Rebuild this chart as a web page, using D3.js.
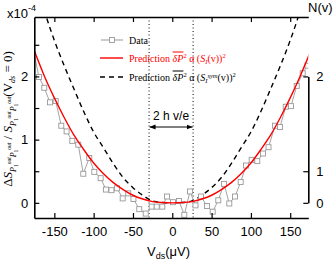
<!DOCTYPE html>
<html lang="en">
<head>
<meta charset="UTF-8">
<script src="https://cdn.jsdelivr.net/npm/d3@7"></script>
<title>Noise vs bias</title>
<style>body{margin:0;background:#fff}</style>
</head>
<body>
<script>
// measured points (V_ds in uV, excess noise in units of 1e-4)
const vds = [-182, -169.6, -162.8, -155.6, -148.3, -141.2, -134.4, -127.2, -119.6, -113.2, -105.6,
  -99.2, -91.1, -84.4, -77.4, -70.4, -63.1, -56.0, -49.4, -42.0, -33.8, -26.2, -19.8, -12.7, -6.7,
  0.9, 8.5, 15.3, 22.5, 29.5, 36.5, 44.1, 51.4, 58.5, 65.8, 72.5, 79.8, 87.0, 93.8, 101.0, 108.1,
  115.4, 122.4, 130.7, 137.0, 144.3, 151.0, 158.3, 165.9, 172.0];
const dS = [2.75, 1.99, 1.82, 1.59, 1.61, 1.22, 1.13, 0.98, 0.92, 0.46, 0.71,
  0.49, 0.39, 0.21, 0.20, 0.23, 0.07, 0.15, 0.06, -0.10, -0.17, -0.06, -0.06, -0.06, 0.10,
  0.01, 0.03, -0.19, 0.18, -0.04, 0.10, -0.05, -0.14, 0.04, 0.30, -0.01, 0.10, 0.33, 0.59, 0.68, 0.66,
  0.78, 0.88, 1.22, 1.20, 1.52, 1.53, 1.85, 2.05, 2.17];

// prediction curves
const curveV = [-176, -162.5, -150, -137.5, -125, -112.5, -100, -87.5, -75, -62.5, -50, -37.5, -25, -12.5, 0,
  12.5, 25, 37.5, 50, 62.5, 75, 87.5, 100, 112.5, 125, 137.5, 150, 162.5, 176];
const predS = [2.42, 2.00, 1.66, 1.35, 1.07, 0.84, 0.63, 0.46, 0.32, 0.21, 0.12, 0.06, 0.02, 0.005, 0,
  0.005, 0.02, 0.06, 0.12, 0.21, 0.32, 0.46, 0.63, 0.84, 1.07, 1.35, 1.66, 2.00, 2.40];
const predSym = [3.60, 3.03, 2.57, 2.17, 1.80, 1.44, 1.12, 0.87, 0.62, 0.40, 0.24, 0.12, 0.03, 0.005, 0,
  0.005, 0.03, 0.12, 0.24, 0.40, 0.62, 0.87, 1.12, 1.44, 1.80, 2.17, 2.57, 3.03, 3.60];

const xTicks = [-150, -100, -50, 0, 50, 100, 150];
const yTicks = [0, 0.5, 1, 1.5, 2, 2.5];
const nTicks = [0, 1, 2];
const gapV = [-29.5, 26.5];

const w = 334, h = 261;
const svg = d3.select("body").append("svg").attr("width", w).attr("height", h);

const x = d3.scaleLinear().domain([-175.5, 173]).range([34.3, 308.3]);
const y = d3.scaleLinear().domain([-0.24, 2.94]).range([218, 17]);
const n = d3.scalePow().exponent(2).domain([0, 2]).range([y(0), y(2)]);

const sans = "Liberation Sans, Arial, sans-serif";
const serif = "Liberation Serif, Times New Roman, serif";

svg.append("clipPath").attr("id", "clip").append("rect")
  .attr("x", x.range()[0]).attr("y", y.range()[1])
  .attr("width", x.range()[1] - x.range()[0]).attr("height", y.range()[0] - y.range()[1]);

const plot = svg.append("g").attr("clip-path", "url(#clip)");

// dotted guides
plot.selectAll(".gap").data(gapV).enter().append("line")
  .attr("x1", d => x(d)).attr("x2", d => x(d))
  .attr("y1", y.range()[1]).attr("y2", y.range()[0])
  .attr("stroke", "#000").attr("stroke-width", 1).attr("stroke-dasharray", "1,2.5");

const line = d3.line().curve(d3.curveMonotoneX);

plot.append("path")
  .attr("d", line(curveV.map((v, i) => [x(v), y(predSym[i])])))
  .attr("fill", "none").attr("stroke", "#000").attr("stroke-width", 1.4)
  .attr("stroke-dasharray", "5,4");

plot.append("path")
  .attr("d", d3.line()(vds.map((v, i) => [x(v), y(dS[i])])))
  .attr("fill", "none").attr("stroke", "#999").attr("stroke-width", 0.9);

plot.selectAll(".pt").data(vds).enter().append("rect")
  .attr("x", (d) => x(d) - 2.5).attr("y", (d, i) => y(dS[i]) - 2.5)
  .attr("width", 5).attr("height", 5)
  .attr("fill", "#fff").attr("stroke", "#999").attr("stroke-width", 0.9);

plot.append("path")
  .attr("d", line(curveV.map((v, i) => [x(v), y(predS[i])])))
  .attr("fill", "none").attr("stroke", "#f00").attr("stroke-width", 1.4);

// axes, ticks pointing inward
const fmt = d => String(d);
const axB = svg.append("g").attr("transform", `translate(0,${y.range()[0]})`)
  .call(d3.axisBottom(x).tickValues(xTicks).tickSizeInner(-5).tickSizeOuter(0).tickPadding(9).tickFormat(fmt));
const axT = svg.append("g").attr("transform", `translate(0,${y.range()[1]})`)
  .call(d3.axisTop(x).tickValues(xTicks).tickSizeInner(-5).tickSizeOuter(0).tickFormat(""));
const axL = svg.append("g").attr("transform", `translate(${x.range()[0]},0)`)
  .call(d3.axisLeft(y).tickValues(yTicks).tickSizeInner(-5).tickSizeOuter(0).tickPadding(6)
    .tickFormat(d => Number.isInteger(d) ? fmt(d) : ""));
const axR = svg.append("g").attr("transform", `translate(${x.range()[1]},0)`)
  .call(d3.axisRight(n).tickValues(nTicks).tickSizeInner(-5).tickSizeOuter(0).tickPadding(8).tickFormat(fmt));

[axB, axT, axL, axR].forEach(g => {
  g.select(".domain").attr("stroke-width", 1.6);
  g.selectAll(".tick line").attr("stroke-width", 1.2);
  g.selectAll("text").attr("font-family", sans).attr("font-size", 13).attr("fill", "#000");
});

// helper for rich text
function rich(t, parts) {
  let prev = 0;
  parts.forEach(p => {
    const ts = t.append("tspan").text(p.t).attr("font-size", p.s).attr("dy", (p.o || 0) - prev);
    if (p.i) ts.attr("font-style", "italic");
    if (p.ov) ts.style("text-decoration", "overline");
    if (p.c) ts.attr("fill", p.c);
    prev = p.o || 0;
  });
}

// scale factor labels
const xt = svg.append("text").attr("x", 7).attr("y", 18).attr("font-family", sans);
rich(xt, [{t: "x10", s: 13}, {t: "-4", s: 9, o: -7}]);
svg.append("text").attr("x", 308).attr("y", 12).attr("font-family", sans).attr("font-size", 13).text("N(v)");

// x label
const xl = svg.append("text").attr("x", 147).attr("y", 256).attr("font-family", sans);
rich(xl, [{t: "V", s: 13}, {t: "ds", s: 9, o: 3}, {t: "(\u03bcV)", s: 13}]);

// y label
const yl = svg.append("text").attr("transform", "translate(12,119) rotate(-90)")
  .attr("text-anchor", "middle").attr("font-family", serif);
rich(yl, [
  {t: "\u0394", s: 13}, {t: "S", s: 13, i: 1},
  {t: "P", s: 8, o: 4, i: 1}, {t: "1", s: 5.5, o: 6}, {t: "out", s: 5.5, o: -1, i: 1},
  {t: "P", s: 8, o: 4, i: 1}, {t: "1", s: 5.5, o: 6}, {t: "out", s: 5.5, o: -1, i: 1},
  {t: " / ", s: 13}, {t: "S", s: 13, i: 1},
  {t: "P", s: 8, o: 4, i: 1}, {t: "1", s: 5.5, o: 6}, {t: "out", s: 5.5, o: -1, i: 1},
  {t: "P", s: 8, o: 4, i: 1}, {t: "1", s: 5.5, o: 6}, {t: "out", s: 5.5, o: -1, i: 1},
  {t: "(V", s: 13}, {t: "ds", s: 8, o: 3, i: 1}, {t: " = 0)", s: 13}
]);

// 2 h v/e marker
svg.append("defs").append("marker").attr("id", "ah").attr("viewBox", "0 0 10 10")
  .attr("refX", 10).attr("refY", 5).attr("markerWidth", 6).attr("markerHeight", 6)
  .attr("orient", "auto-start-reverse")
  .append("path").attr("d", "M0,1L10,5L0,9z").attr("fill", "#000");
svg.append("line").attr("x1", x(gapV[0]) + 0.5).attr("x2", x(gapV[1]) - 0.5)
  .attr("y1", 127).attr("y2", 127).attr("stroke", "#000").attr("stroke-width", 1)
  .attr("marker-start", "url(#ah)").attr("marker-end", "url(#ah)");
svg.append("text").attr("x", (x(gapV[0]) + x(gapV[1])) / 2).attr("y", 120)
  .attr("text-anchor", "middle").attr("font-family", sans).attr("font-size", 12).text("2 h v/e");

// legend
const lg = svg.append("g");
lg.append("line").attr("x1", 101).attr("x2", 123).attr("y1", 40).attr("y2", 40).attr("stroke", "#999");
lg.append("rect").attr("x", 109.5).attr("y", 37.5).attr("width", 5).attr("height", 5)
  .attr("fill", "#fff").attr("stroke", "#999").attr("stroke-width", 0.9);
lg.append("line").attr("x1", 100).attr("x2", 123).attr("y1", 58).attr("y2", 58).attr("stroke", "#f00").attr("stroke-width", 1.4);
lg.append("line").attr("x1", 100).attr("x2", 123).attr("y1", 77).attr("y2", 77).attr("stroke", "#000")
  .attr("stroke-width", 1.4).attr("stroke-dasharray", "5,4");

lg.append("text").attr("x", 129).attr("y", 43.5).attr("font-family", serif).attr("font-size", 10).text("Data");
const l2 = lg.append("text").attr("x", 129).attr("y", 61.5).attr("font-family", serif).attr("fill", "#f00");
rich(l2, [{t: "Prediction ", s: 10}, {t: "\u03b4P", s: 10, i: 1, ov: 1}, {t: "2", s: 6.5, o: -4},
  {t: " \u03b1 (", s: 10}, {t: "S", s: 10, i: 1}, {t: "I", s: 6.5, o: 2, i: 1}, {t: "(v))", s: 10}, {t: "2", s: 6.5, o: -4}]);
const l3 = lg.append("text").attr("x", 129).attr("y", 80.5).attr("font-family", serif).attr("fill", "#000");
rich(l3, [{t: "Prediction ", s: 10}, {t: "\u03b4P", s: 10, i: 1, ov: 1}, {t: "2", s: 6.5, o: -4},
  {t: " \u03b1 (", s: 10}, {t: "S", s: 10, i: 1}, {t: "I", s: 6.5, o: 2, i: 1}, {t: "sym", s: 6.5, o: -3, i: 1},
  {t: "(v))", s: 10}, {t: "2", s: 6.5, o: -4}]);
</script>
</body>
</html>
